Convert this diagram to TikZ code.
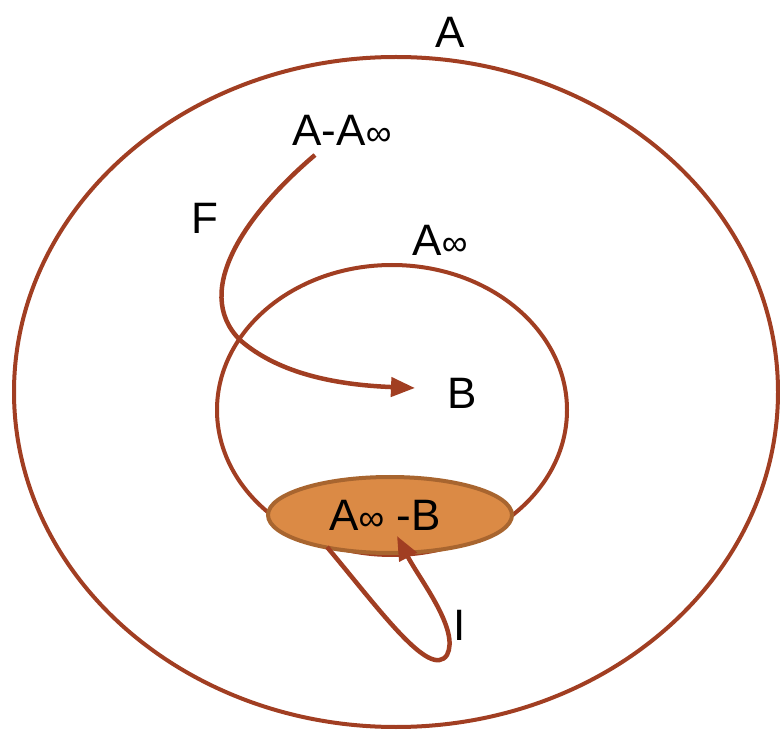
\documentclass[tikz,border=0pt]{standalone}
\usepackage{fontspec}
\setmainfont{Liberation Sans}
\usetikzlibrary{arrows.meta,shapes.geometric}
\definecolor{rust}{HTML}{A13E22}
\definecolor{org}{HTML}{DB8A45}
\definecolor{orgb}{HTML}{A8652F}
\tikzset{lbl/.style={font=\fontsize{44}{48}\selectfont, inner sep=0pt},
  ring/.style={draw=rust, line width=4pt},
  conn/.style={draw=rust, line width=4.5pt, -{Triangle[length=24pt,width=19pt]}}}
\newcommand{\myinf}{{\fontsize{36}{36}\selectfont ∞}}
\begin{document}
\begin{tikzpicture}[x=1pt,y=-1pt]
\useasboundingbox (0,0) rectangle (780,735);
\node[ring, ellipse, minimum width=764, minimum height=670, inner sep=0pt] (outer) at (396,392) {};
\node[ring, ellipse, minimum width=350, minimum height=290, inner sep=0pt] (inner) at (392,410) {};
\node[draw=orgb, fill=org, line width=4pt, ellipse, minimum width=244, minimum height=76, inner sep=0pt] (ab) at (390,515) {};
\node[lbl] (la) at (450,32) {A};
\node[lbl] (laa) at (342,130) {A-A\myinf};
\node[lbl] (lf) at (205,218) {F};
\node[lbl] (lai) at (440,240) {A\myinf};
\node[lbl] (lb) at (462,393) {B};
\node[lbl] (lab) at (385,515) {A\myinf\ -B};
\node[lbl] (li) at (460,625) {I};
\coordinate (fs) at (315,155);
\coordinate (ft) at (415,388);
\draw[conn] (fs) .. controls (250,210) and (190,290) .. (240,340) .. controls (280,375) and (340,385) .. (ft);
\coordinate (is) at (327,547);
\coordinate (it) at (397,536);
\draw[conn] (is) .. controls (380,610) and (430,680) .. (447,655) .. controls (460,630) and (420,580) .. (it);
\end{tikzpicture}
\end{document}
